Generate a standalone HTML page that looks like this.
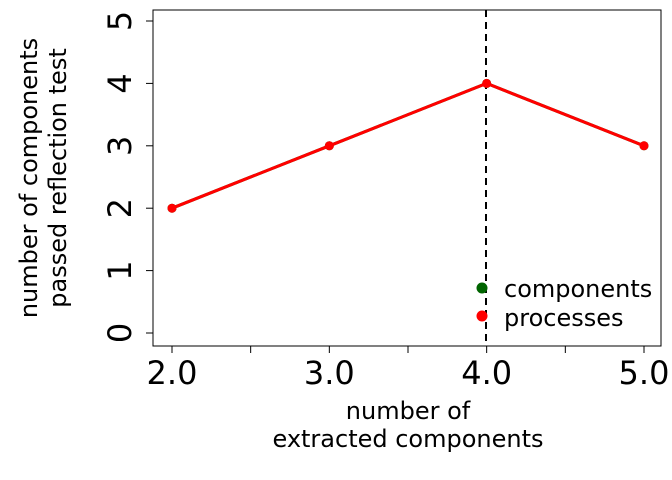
<!DOCTYPE html>
<html><head><meta charset="utf-8"><style>body{margin:0;background:#fff}svg{display:block}text{font-family:"DejaVu Sans","Liberation Sans",sans-serif}</style></head>
<body>
<svg width="672" height="480">
<rect x="153" y="10" width="508" height="336" fill="none" stroke="#000" stroke-width="1"/>
<g id="axes"></g>
<line x1="486" y1="10" x2="486" y2="346" stroke="#000" stroke-width="2" stroke-dasharray="7,5"/>
<g id="series"></g>
<text transform="translate(37,178) rotate(-90)" text-anchor="middle" font-size="24"><tspan x="0" dy="0">number of components</tspan><tspan x="0" dy="29">passed reflection test</tspan></text>
<text x="408" y="419" text-anchor="middle" font-size="24">number of</text>
<text x="408" y="447" text-anchor="middle" font-size="24">extracted components</text>
<circle cx="482" cy="288" r="5.5" fill="#006400"/>
<text x="504" y="297" font-size="24">components</text>
<circle cx="482" cy="316" r="5.5" fill="#ff0000"/>
<text x="504" y="326" font-size="24">processes</text>
</svg>
<script>
const categories=[2,3,4,5];
const componentsValues=[2,3,4,3];
const processesValues=[2,3,4,3];
const xTicks=[2,2.5,3,3.5,4,4.5,5];
const xTickLabels=["2.0","3.0","4.0","5.0"];
const yTicks=[0,1,2,3,4,5];
const ns="http://www.w3.org/2000/svg";
const xs=v=>172+(v-2)*157.33;
const ys=v=>333-v*62.4;
const ax=document.getElementById('axes'),se=document.getElementById('series');
function mk(tag,at,par){const e=document.createElementNS(ns,tag);for(const k in at)e.setAttribute(k,at[k]);par.appendChild(e);return e;}
xTicks.forEach(t=>{const l=mk('line',{x1:xs(t),x2:xs(t),y1:346,y2:353,stroke:'#000'},ax);

});
categories.forEach((c,i)=>{const t=mk('text',{x:xs(c),y:384,'text-anchor':'middle','font-size':32},ax);t.textContent=xTickLabels[i];

});
yTicks.forEach(v=>{const l=mk('line',{x1:146,x2:153,y1:ys(v),y2:ys(v),stroke:'#000'},ax);


const t=mk('text',{transform:`translate(131,${ys(v)}) rotate(-90)`,'text-anchor':'middle','font-size':32},ax);t.textContent=v;

});
function draw(vals,color,name){const p=mk('polyline',{points:categories.map((c,i)=>xs(c)+','+ys(vals[i])).join(' '),fill:'none',stroke:color,'stroke-width':3},se);


categories.forEach((c,i)=>{const d=mk('circle',{cx:xs(c),cy:ys(vals[i]),r:4.5,fill:color},se);

});}
draw(componentsValues,'#006400','components');
draw(processesValues,'#ff0000','processes');
</script>
</body></html>
